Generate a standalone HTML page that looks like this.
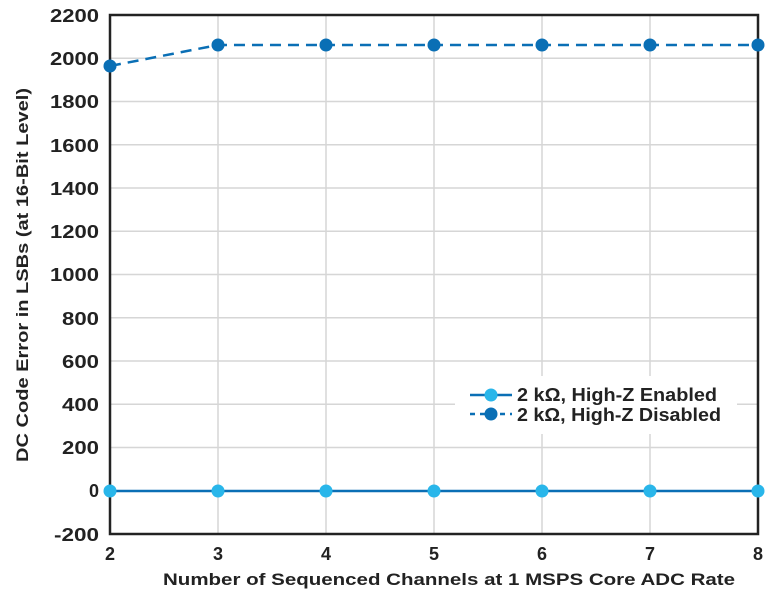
<!DOCTYPE html>
<html><head><style>body{margin:0;background:#fff}svg{display:block}text{font-family:"Liberation Sans",sans-serif;font-weight:bold;fill:#222}</style></head>
<body>
<svg width="776" height="599" viewBox="0 0 776 599">
<g stroke="#d6d6d6" stroke-width="1.5">
<line x1="218" y1="15" x2="218" y2="534"/><line x1="326" y1="15" x2="326" y2="534"/><line x1="434" y1="15" x2="434" y2="534"/><line x1="542" y1="15" x2="542" y2="534"/><line x1="650" y1="15" x2="650" y2="534"/>
<line x1="110" y1="58.25" x2="758" y2="58.25"/><line x1="110" y1="101.5" x2="758" y2="101.5"/><line x1="110" y1="144.75" x2="758" y2="144.75"/><line x1="110" y1="188" x2="758" y2="188"/><line x1="110" y1="231.25" x2="758" y2="231.25"/><line x1="110" y1="274.5" x2="758" y2="274.5"/><line x1="110" y1="317.75" x2="758" y2="317.75"/><line x1="110" y1="361" x2="758" y2="361"/><line x1="110" y1="404.25" x2="758" y2="404.25"/><line x1="110" y1="447.5" x2="758" y2="447.5"/><line x1="110" y1="490.75" x2="758" y2="490.75"/>
</g>
<rect x="455" y="376" width="282" height="58" fill="#fff"/>
<rect x="110" y="15" width="648" height="519" fill="none" stroke="#222" stroke-width="2.5"/>
<g font-size="18" text-anchor="end">
<text x="99" y="22" textLength="49" lengthAdjust="spacingAndGlyphs">2200</text><text x="99" y="65" textLength="49" lengthAdjust="spacingAndGlyphs">2000</text><text x="99" y="108" textLength="49" lengthAdjust="spacingAndGlyphs">1800</text><text x="99" y="152" textLength="49" lengthAdjust="spacingAndGlyphs">1600</text><text x="99" y="195" textLength="49" lengthAdjust="spacingAndGlyphs">1400</text><text x="99" y="238" textLength="49" lengthAdjust="spacingAndGlyphs">1200</text><text x="99" y="281" textLength="49" lengthAdjust="spacingAndGlyphs">1000</text><text x="99" y="325" textLength="37" lengthAdjust="spacingAndGlyphs">800</text><text x="99" y="368" textLength="37" lengthAdjust="spacingAndGlyphs">600</text><text x="99" y="411" textLength="37" lengthAdjust="spacingAndGlyphs">400</text><text x="99" y="454" textLength="37" lengthAdjust="spacingAndGlyphs">200</text><text x="99" y="497">0</text><text x="99" y="541" textLength="45" lengthAdjust="spacingAndGlyphs">-200</text>
</g>
<g font-size="18" text-anchor="middle">
<text x="110" y="560">2</text><text x="218" y="560">3</text><text x="326" y="560">4</text><text x="434" y="560">5</text><text x="542" y="560">6</text><text x="650" y="560">7</text><text x="758" y="560">8</text>
</g>
<text x="163" y="585" font-size="17" textLength="572" lengthAdjust="spacingAndGlyphs">Number of Sequenced Channels at 1 MSPS Core ADC Rate</text>
<text transform="translate(28,462) rotate(-90)" font-size="17" textLength="374" lengthAdjust="spacingAndGlyphs">DC Code Error in LSBs (at 16-Bit Level)</text>
<line x1="110" y1="491" x2="758" y2="491" stroke="#0a6fb5" stroke-width="2.5"/>
<g fill="#29b6ea"><circle cx="110" cy="491" r="6.5"/><circle cx="218" cy="491" r="6.5"/><circle cx="326" cy="491" r="6.5"/><circle cx="434" cy="491" r="6.5"/><circle cx="542" cy="491" r="6.5"/><circle cx="650" cy="491" r="6.5"/><circle cx="758" cy="491" r="6.5"/></g>
<polyline points="110,66 218,45 758,45" fill="none" stroke="#0a6fb5" stroke-width="2.5" stroke-dasharray="11,7"/>
<g fill="#0a6fb5"><circle cx="110" cy="66" r="6.5"/><circle cx="218" cy="45" r="6.5"/><circle cx="326" cy="45" r="6.5"/><circle cx="434" cy="45" r="6.5"/><circle cx="542" cy="45" r="6.5"/><circle cx="650" cy="45" r="6.5"/><circle cx="758" cy="45" r="6.5"/></g>
<line x1="470" y1="395" x2="512" y2="395" stroke="#0a6fb5" stroke-width="2.5"/><circle cx="491" cy="395" r="6.5" fill="#29b6ea"/>
<line x1="470" y1="414" x2="512" y2="414" stroke="#0a6fb5" stroke-width="2.5" stroke-dasharray="5,5"/><circle cx="491" cy="414" r="6.5" fill="#0a6fb5"/>
<text x="517" y="401" font-size="18" textLength="200" lengthAdjust="spacingAndGlyphs">2 kΩ, High-Z Enabled</text>
<text x="517" y="421" font-size="18" textLength="204" lengthAdjust="spacingAndGlyphs">2 kΩ, High-Z Disabled</text>
</svg>
</body></html>
